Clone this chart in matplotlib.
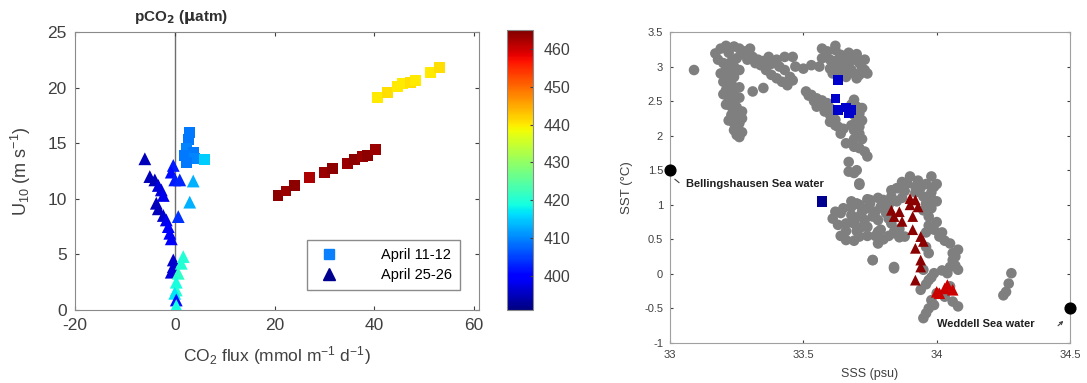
import numpy as np
import matplotlib
matplotlib.use("Agg")
import matplotlib.pyplot as plt
from matplotlib.lines import Line2D

plt.rcParams['font.family'] = ['Liberation Sans', 'DejaVu Sans']
plt.rcParams['mathtext.fontset'] = 'custom'
plt.rcParams['mathtext.rm'] = 'Liberation Sans'
plt.rcParams['mathtext.it'] = 'Liberation Sans'
plt.rcParams['axes.unicode_minus'] = False

# --- left panel: CO2 flux vs wind speed, coloured by pCO2 ---
# April 11-12 (squares)
flux_apr11 = [20.7, 22.3, 24.0, 27.1, 30.0, 31.7, 34.7, 36.0, 37.7, 38.7, 40.2,
              40.7, 42.7, 44.7, 45.7, 47.3, 48.3, 51.3, 53.0,
              3.0, 2.7, 2.3, 2.0, 3.7, 4.0, 6.0, 2.3]
u10_apr11 = [10.3, 10.7, 11.2, 11.9, 12.4, 12.7, 13.2, 13.5, 13.8, 13.9, 14.4,
             19.1, 19.6, 20.1, 20.4, 20.5, 20.6, 21.4, 21.8,
             16.0, 15.3, 14.5, 13.9, 14.2, 13.6, 13.5, 13.3]
pco2_apr11 = [464, 463, 464, 462, 463, 464, 463, 464, 463, 464, 463,
              440, 441, 440, 440, 441, 440, 440, 441,
              409, 409, 410, 409, 409, 410, 415, 409]

# April 25-26 (triangles)
flux_apr25 = [-6.0, -5.0, -4.0, -3.3, -2.7, -2.3, -3.7, -3.3, -2.3, -1.7, -1.3, -1.0, -0.7,
              -0.3, -0.7, 0.0, 1.0, 3.7, 3.0, 0.7,
              -0.3, -0.3, -0.7, 1.7, 1.3, 0.7, 0.3, 0.3, 0.0, 0.3, 0.3]
u10_apr25 = [13.6, 12.0, 11.7, 11.2, 10.8, 10.3, 9.6, 9.1, 8.5, 8.1, 7.5, 6.9, 6.4,
             13.0, 12.4, 11.7, 11.7, 11.6, 9.7, 8.4,
             4.5, 3.9, 3.4, 4.8, 4.2, 3.3, 2.5, 1.8, 1.5, 0.9, 0.4]
pco2_apr25 = [395, 395, 395, 397, 397, 398, 395, 395, 396, 398, 400, 400, 399,
              402, 401, 402, 403, 413, 413, 404,
              396, 396, 397, 420, 420, 421, 419, 420, 417, 401, 419]

pco2_min, pco2_max = 391, 465
pco2_ticks = [400, 410, 420, 430, 440, 450, 460]

# --- right panel: T-S diagram (underway record in grey) ---
sss_all = [33.09, 33.17, 33.19, 33.21, 33.24, 33.26, 33.28, 33.30, 33.31, 33.33, 33.34,
           33.36, 33.38, 33.40, 33.42, 33.44, 33.37, 33.40, 33.43, 33.46, 33.47, 33.50,
           33.53, 33.56,
           33.27, 33.29, 33.32, 33.35, 33.38, 33.41, 33.43, 33.45, 33.46, 33.25, 33.22, 33.18,
           33.20, 33.23, 33.24, 33.19, 33.23, 33.24, 33.20, 33.23, 33.21, 33.24, 33.22,
           33.24, 33.23, 33.25, 33.23, 33.24, 33.24, 33.26, 33.24, 33.25, 33.31, 33.35,
           33.21, 33.26, 33.22, 33.26, 33.20, 33.26, 33.21, 33.27, 33.22, 33.27, 33.25,
           33.27, 33.26,
           33.57, 33.59, 33.62, 33.57, 33.64, 33.66, 33.69, 33.71, 33.73, 33.62, 33.65,
           33.67, 33.69, 33.71, 33.64, 33.61, 33.70,
           33.60, 33.63, 33.66, 33.68, 33.60, 33.63, 33.72, 33.74, 33.66, 33.62, 33.67,
           33.70, 33.73,
           33.51, 33.53, 33.55, 33.57, 33.59, 33.60, 33.61, 33.62, 33.63, 33.64, 33.55, 33.58,
           33.52, 33.54, 33.56, 33.58, 33.60, 33.62, 33.60, 33.65, 33.68, 33.69, 33.72,
           33.72, 33.68, 33.69, 33.72,
           33.69, 33.70, 33.71, 33.70, 33.71, 33.71, 33.69, 33.66, 33.69, 33.71, 33.73,
           33.74, 33.67, 33.67, 33.71,
           33.61, 33.64, 33.68, 33.71, 33.75, 33.79, 33.63, 33.66, 33.69, 33.74, 33.79,
           33.84, 33.86, 33.66, 33.71, 33.78, 33.81, 33.76, 33.71, 33.83, 33.76, 33.84,
           33.85, 33.89,
           33.62, 33.65, 33.68, 33.72, 33.74, 33.77, 33.80, 33.82, 33.85, 33.87, 33.88,
           33.92, 33.94, 33.96, 33.93, 33.87, 33.95, 33.98, 34.00, 34.00, 33.98, 34.00,
           33.97, 33.96, 34.02, 34.03, 34.06, 34.07, 34.05, 34.07, 34.02, 33.98, 33.96,
           33.97, 33.99, 34.06, 33.66, 33.70, 33.74, 33.77, 33.80, 33.82, 33.64, 33.69,
           33.73, 33.78, 33.82, 33.86, 33.68, 33.74, 33.78, 33.83,
           33.90, 33.98, 33.99, 33.92, 33.86, 33.83, 33.80, 33.75, 33.70, 33.69, 33.72,
           33.78, 33.84, 33.88, 33.95, 33.97, 33.98, 33.96, 33.99, 34.01, 34.05, 34.08,
           34.06, 34.08, 34.04, 34.00, 33.98, 33.96, 33.95, 34.03, 34.08, 33.94, 34.05,
           33.76, 33.84, 33.70, 33.69, 33.71, 33.96, 33.97, 33.95, 33.99, 33.97,
           34.28, 34.27, 34.26, 34.25]
sst_all = [2.95, 3.19, 3.26, 3.30, 3.29, 3.26, 3.22, 3.26, 3.14, 3.10, 3.02,
           2.95, 2.88, 2.83, 2.78, 2.73, 3.14, 3.10, 3.14, 3.14, 3.00, 2.97,
           3.02, 3.00,
           3.18, 3.10, 3.05, 3.08, 3.04, 3.00, 2.95, 2.85, 2.80, 3.12, 3.20, 3.10,
           3.05, 3.07, 3.00, 2.90, 2.90, 2.85, 2.78, 2.76, 2.66, 2.64, 2.54,
           2.52, 2.42, 2.41, 2.30, 2.28, 2.18, 2.18, 2.08, 2.01, 2.64, 2.69,
           2.95, 2.95, 2.82, 2.70, 2.60, 2.55, 2.45, 2.35, 2.22, 2.25, 2.12,
           2.05, 1.98,
           3.26, 3.22, 3.24, 3.12, 3.17, 3.12, 3.10, 3.05, 2.95, 3.05, 2.98,
           3.00, 2.90, 2.88, 2.88, 2.90, 2.83,
           3.10, 3.10, 3.05, 2.95, 2.97, 2.95, 2.98, 2.90, 2.85, 3.30, 3.20,
           3.18, 3.10,
           2.64, 2.59, 2.54, 2.51, 2.47, 2.40, 2.32, 2.23, 2.13, 2.03, 2.42, 2.35,
           2.58, 2.50, 2.45, 2.42, 2.30, 2.15, 2.20, 2.10, 2.45, 2.30, 2.22,
           2.40, 2.15, 1.95, 1.95,
           2.52, 2.42, 2.32, 2.23, 2.13, 2.03, 2.08, 1.89, 1.84, 1.82, 1.77,
           1.70, 1.62, 1.48, 1.31,
           0.80, 0.88, 0.97, 1.00, 1.02, 0.97, 0.71, 0.73, 0.73, 0.68, 0.64,
           0.61, 0.53, 0.49, 0.54, 0.44, 0.88, 0.83, 0.83, 0.73, 0.20, 0.10,
           1.24, 1.31,
           0.90, 0.95, 0.85, 0.90, 0.95, 0.90, 0.95, 1.00, 1.05, 1.10, 1.20,
           1.18, 1.25, 1.30, 1.35, 1.33, 1.12, 1.18, 1.30, 1.05, 0.95, 0.75,
           0.70, 0.60, 0.60, 0.48, 0.30, 0.25, 0.10, 0.12, 0.05, -0.05, -0.15,
           -0.50, -0.45, -0.40, 0.62, 0.62, 0.55, 0.55, 0.50, 0.55, 0.55, 0.48,
           0.78, 0.78, 0.80, 0.65, 1.05, 1.08, 1.10, 1.12,
           1.41, 1.41, 1.26, 1.26, 1.24, 1.21, 1.07, 1.07, 1.02, 0.73, 0.68,
           0.61, 0.59, 0.54, 0.92, 0.83, 1.09, 1.02, 0.64, 0.54, 0.44, 0.35,
           0.20, 0.06, 0.01, -0.28, -0.38, -0.57, -0.64, -0.33, -0.47, -0.23, -0.18,
           0.20, 0.08, 1.50, 1.46, 1.29, 0.39, 0.30, 0.06, 0.01, -0.09,
           0.01, -0.14, -0.26, -0.31]

sss_sq_apr11 = [33.63, 33.62, 33.63, 33.66, 33.68, 33.67]
sst_sq_apr11 = [2.81, 2.54, 2.37, 2.41, 2.37, 2.33]
sss_sq_dark = [33.57]
sst_sq_dark = [1.05]

sss_tri_apr25 = [33.83, 33.86, 33.84, 33.87, 33.90, 33.92, 33.90, 33.93, 33.91, 33.91,
                 33.94, 33.95, 33.92, 33.94, 33.94, 33.92]
sst_tri_apr25 = [0.92, 0.90, 0.83, 0.76, 1.09, 1.07, 1.00, 0.97, 0.83, 0.64,
                 0.54, 0.47, 0.37, 0.20, 0.10, -0.09]
sss_tri_red = [34.00, 34.03, 34.04, 34.06, 34.01]
sst_tri_red = [-0.26, -0.21, -0.16, -0.23, -0.28]

# end-member water masses
sss_bell, sst_bell = 33.0, 1.5
sss_wedd, sst_wedd = 34.5, -0.5

fig = plt.figure(figsize=(10.87, 3.83), dpi=100)
fig.patch.set_facecolor('white')

txt_color = '#404040'
spine_color = '#8a8a8a'

ax1 = fig.add_axes([0.069, 0.1906, 0.3717, 0.7258])
ax1.axvline(0, color='#6e6e6e', lw=1.0, zorder=1)
sc = ax1.scatter(flux_apr11, u10_apr11, c=pco2_apr11, cmap='jet', vmin=pco2_min, vmax=pco2_max,
                 marker='s', s=62, edgecolors='none', zorder=3)
ax1.scatter(flux_apr25, u10_apr25, c=pco2_apr25, cmap='jet', vmin=pco2_min, vmax=pco2_max,
            marker='^', s=85, edgecolors='none', zorder=3)
ax1.set_xlim(-20, 61)
ax1.set_ylim(0, 25)
ax1.set_xticks([-20, 0, 20, 40, 60])
ax1.set_yticks([0, 5, 10, 15, 20, 25])
ax1.tick_params(direction='in', top=True, right=True, labelsize=12.5, colors=txt_color,
                length=3, pad=6)
for sp in ax1.spines.values():
    sp.set_color(spine_color)
ax1.set_xlabel(r'CO$_2$ flux (mmol m$^{-1}$ d$^{-1}$)', fontsize=12.5, color=txt_color, labelpad=8)
ax1.set_ylabel(r'U$_{10}$ (m s$^{-1}$)', fontsize=13, color=txt_color, labelpad=10)

handles = [Line2D([], [], marker='s', ls='none', color='#0a80ff', markersize=7),
           Line2D([], [], marker='^', ls='none', color='#00008f', markersize=8)]
leg = ax1.legend(handles, ['April 11-12', 'April 25-26'], loc='lower right',
                 bbox_to_anchor=(0.97, 0.047), fontsize=10.5, frameon=True, fancybox=False,
                 handletextpad=2.6, borderpad=0.5, labelspacing=0.45)
leg.get_frame().set_edgecolor('#6e6e6e')
leg.get_frame().set_linewidth(1.0)

fig.text(181 / 1087, 1 - 17 / 383, r'pCO$_\mathbf{2}$ ($\mathbf{\mu}$atm)', fontsize=11,
         fontweight='bold', ha='center', va='center', color='#303030')

cax = fig.add_axes([0.4664, 0.1906, 0.0239, 0.731])
cb = fig.colorbar(sc, cax=cax, ticks=pco2_ticks)
cb.outline.set_edgecolor(spine_color)
cax.tick_params(direction='in', labelsize=11.5, colors=txt_color, length=2, pad=8)

ax2 = fig.add_axes([0.6164, 0.1044, 0.368, 0.812])
ax2.scatter(sss_all, sst_all, s=58, color='#7f7f7f', edgecolors='none', zorder=2)
ax2.scatter(sss_sq_apr11, sst_sq_apr11, marker='s', s=48, color='#0000cc', edgecolors='none', zorder=3)
ax2.scatter(sss_sq_dark, sst_sq_dark, marker='s', s=60, color='#000090', edgecolors='none', zorder=3)
ax2.scatter(sss_tri_apr25, sst_tri_apr25, marker='^', s=60, color='#8b0000', edgecolors='none', zorder=3)
ax2.scatter(sss_tri_red, sst_tri_red, marker='^', s=70, color='#cc0000', edgecolors='none', zorder=3)
ax2.scatter([sss_bell, sss_wedd], [sst_bell, sst_wedd], s=60, color='black', zorder=4, clip_on=False)

ax2.text(33.06, 1.30, 'Bellingshausen Sea water', fontsize=8, fontweight='bold',
         va='center', ha='left', color='#202020')
ax2.annotate('', xy=(33.018, 1.37), xytext=(33.034, 1.32),
             arrowprops=dict(arrowstyle='-', color='#404040', lw=0.8, shrinkA=0, shrinkB=0))
ax2.text(34.0, -0.73, 'Weddell Sea water', fontsize=8, fontweight='bold',
         va='center', ha='left', color='#202020')
ax2.annotate('', xy=(34.475, -0.68), xytext=(34.455, -0.75),
             arrowprops=dict(arrowstyle='->', color='#404040', lw=0.8, shrinkA=0, shrinkB=0,
                             mutation_scale=5))

ax2.set_xlim(33, 34.5)
ax2.set_ylim(-1, 3.5)
ax2.set_xticks([33, 33.5, 34, 34.5])
ax2.set_yticks(np.arange(-1, 3.51, 0.5))
ax2.set_xticklabels(['33', '33.5', '34', '34.5'])
ax2.set_yticklabels(['-1', '-0.5', '0', '0.5', '1', '1.5', '2', '2.5', '3', '3.5'])
ax2.tick_params(direction='in', top=True, right=True, labelsize=8, colors=txt_color,
                length=2.5, pad=5)
for sp in ax2.spines.values():
    sp.set_color('#a0a0a0')
ax2.set_xlabel('SSS (psu)', fontsize=9, color=txt_color, labelpad=6)
ax2.set_ylabel('SST (\u00b0C)', fontsize=9.5, color=txt_color, labelpad=8)

fig.savefig('out.png', dpi=100, facecolor='white')
